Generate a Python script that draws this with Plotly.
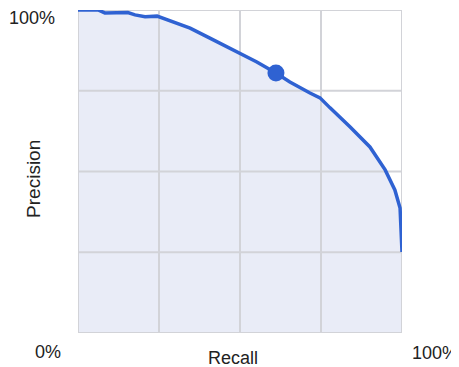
import plotly.graph_objects as go

recall = [0.0, 0.062, 0.083, 0.123, 0.154, 0.176, 0.207, 0.244, 0.269, 0.299,
          0.346, 0.407, 0.469, 0.552, 0.611, 0.654, 0.716, 0.747, 0.778, 0.840,
          0.901, 0.948, 0.978, 0.994, 1.0]
precision = [1.0, 1.0, 0.991, 0.991, 0.992, 0.985, 0.979, 0.981, 0.972, 0.960,
             0.944, 0.913, 0.882, 0.839, 0.805, 0.777, 0.743, 0.728, 0.697, 0.638,
             0.576, 0.505, 0.443, 0.387, 0.251]
point_recall = [0.611]
point_precision = [0.805]
grid_vals = [0, 0.25, 0.5, 0.75, 1.0]
x_title = "Recall"
y_title = "Precision"
corner_labels = ["100%", "0%", "100%"]

BLUE = "#2f62d2"
GRID = "#d2d3d8"
FONT = "Liberation Sans, Arial, sans-serif"

fig = go.Figure()
# shaded area under the curve
fig.add_trace(go.Scatter(
    x=recall, y=precision, mode="lines", fill="tozeroy",
    fillcolor="#e9ecf7", line=dict(width=0, color="rgba(0,0,0,0)"), hoverinfo="skip"))
# grid lines drawn above the shading but below the curve
for v in grid_vals:
    fig.add_trace(go.Scatter(x=[v, v], y=[0, 1], mode="lines", cliponaxis=False,
                             line=dict(color=GRID, width=2), hoverinfo="skip"))
    fig.add_trace(go.Scatter(x=[0, 1], y=[v, v], mode="lines", cliponaxis=False,
                             line=dict(color=GRID, width=2), hoverinfo="skip"))
# curve
fig.add_trace(go.Scatter(
    x=recall, y=precision, mode="lines", cliponaxis=False,
    line=dict(color=BLUE, width=3.5), hoverinfo="skip"))
fig.add_trace(go.Scatter(
    x=point_recall, y=point_precision, mode="markers",
    marker=dict(color=BLUE, size=17), hoverinfo="skip"))

axis_common = dict(range=[0, 1], showticklabels=False, showgrid=False,
                   zeroline=False, showline=False, ticks="", fixedrange=True)
fig.update_xaxes(**axis_common)
fig.update_yaxes(**axis_common)

ann = []
ann.append(dict(text=corner_labels[0], xref="paper", yref="paper", x=-0.066, y=0.976,
                xanchor="right", yanchor="middle", showarrow=False))
ann.append(dict(text=corner_labels[1], xref="paper", yref="paper", x=-0.094, y=-0.058,
                xanchor="center", yanchor="middle", showarrow=False))
ann.append(dict(text=corner_labels[2], xref="paper", yref="paper", x=1.176, y=-0.061,
                xanchor="right", yanchor="middle", showarrow=False, borderpad=0))
ann.append(dict(text=x_title, xref="paper", yref="paper", x=0.478, y=-0.077,
                xanchor="center", yanchor="middle", showarrow=False))
ann.append(dict(text=y_title, xref="paper", yref="paper", x=-0.138, y=0.478,
                xanchor="center", yanchor="middle", textangle=-90, showarrow=False,
                font=dict(size=19)))

# the page body adds an 8px offset, so the figure is 8px smaller and margins shifted
fig.update_layout(
    width=451, height=359,
    margin=dict(l=70, r=57, t=2, b=34),
    plot_bgcolor="white", paper_bgcolor="white",
    showlegend=False,
    font=dict(family=FONT, size=18, color="#222222"),
    annotations=ann,
)

fig.write_html("out.html")
